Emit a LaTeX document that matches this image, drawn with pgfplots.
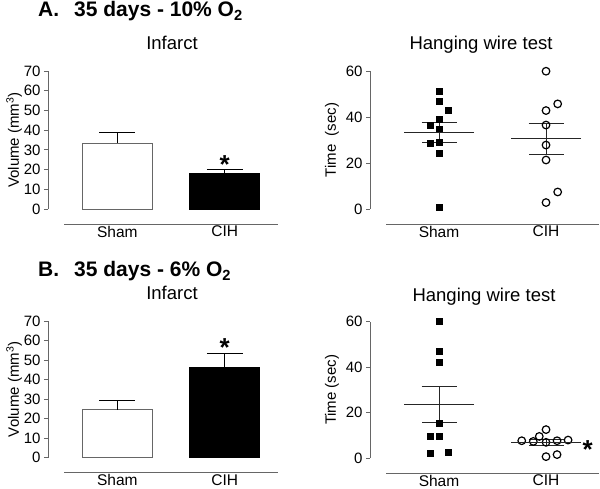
\documentclass[border=0pt]{standalone}
\usepackage{pgfplots}
\pgfplotsset{compat=1.18}
\usepackage{fontspec}
\setmainfont{Liberation Sans}

\definecolor{axisgray}{gray}{0.4}

\pgfplotsset{
  prism/.style={
    scale only axis, enlargelimits=false, clip=false,
    width=230pt,
    axis x line*=bottom, axis y line*=left,
    x axis line style={draw=none},
    y axis line style={axisgray, line width=0.8pt},
    xmin=0.355, xmax=2.495,
    xtick={1,2}, xticklabels={Sham,CIH},
    xtick style={draw=none},
    xticklabel style={font=\fontsize{15.5}{17}\selectfont, yshift=-9.5pt},
    ytick style={axisgray, line width=0.8pt},
    tick align=outside, major tick length=4pt,
    yticklabel style={font=\fontsize{15}{17}\selectfont},
    ylabel style={font=\fontsize{15}{17}\selectfont},
    /pgf/number format/assume math mode=true,
  },
  barpanel/.style={prism, ymin=0, ymax=70, ytick={0,10,...,70},
    ylabel={Volume (mm\textsuperscript{3})}, ylabel shift=-5pt},
  dotpanel/.style={prism, ymin=0, ymax=60, ytick={0,20,40,60},
    ylabel={#1}},
  barerr/.style={
    error bars/y dir=plus, error bars/y explicit,
    error bars/error mark=|,
    error bars/error bar style={black, line width=1pt},
    error bars/error mark options={black, line width=1pt, mark size=18pt}},
  shambar/.style={ybar, bar width=70pt, bar shift=0pt, draw=axisgray, fill=white, line width=0.8pt, barerr},
  cihbar/.style={ybar, bar width=70pt, bar shift=0pt, draw=black, fill=black, line width=0.8pt, barerr},
  meansem/.style={only marks, black!85, mark=-, mark size=35pt, mark options={line width=0.8pt},
    error bars/y dir=both, error bars/y explicit,
    error bars/error mark=|,
    error bars/error bar style={black!85, line width=0.8pt},
    error bars/error mark options={black!85, line width=0.8pt, mark size=17.5pt}},
}

\newcommand{\catline}{\draw[axisgray, line width=0.8pt] ([yshift=-15pt]rel axis cs:0.07,0) -- ([yshift=-15pt]rel axis cs:1,0);}
\newcommand{\sigstar}[1]{\node[font=\fontsize{26}{26}\selectfont\bfseries, anchor=base, inner sep=0pt, yshift=-14.5pt] at (#1) {*};}

\begin{document}
\begin{tikzpicture}
\path[use as bounding box] (0,0) rectangle (600pt,489pt);

% titles
\node[anchor=base west, inner sep=0pt, font=\fontsize{21}{24}\selectfont\bfseries] at (38pt,472pt) {A.\hspace{15pt}35 days - 10\% O\textsubscript{2}};
\node[anchor=base west, inner sep=0pt, font=\fontsize{21}{24}\selectfont\bfseries] at (38pt,212pt) {B.\hspace{15pt}35 days - 6\% O\textsubscript{2}};
\node[anchor=base, inner sep=0pt, font=\fontsize{18.5}{20}\selectfont] at (172pt,439pt) {Infarct};
\node[anchor=base, inner sep=0pt, font=\fontsize{18.5}{20}\selectfont] at (481pt,439pt) {Hanging wire test};
\node[anchor=base, inner sep=0pt, font=\fontsize{18.5}{20}\selectfont] at (172pt,189pt) {Infarct};
\node[anchor=base, inner sep=0pt, font=\fontsize{18.5}{20}\selectfont] at (484pt,187pt) {Hanging wire test};

% A: infarct
\begin{axis}[barpanel, height=138pt, at={(48pt,280pt)}, anchor=south west]
\addplot[shambar] coordinates {(1,33.5) +- (0,5.1)};
\addplot[cihbar] coordinates {(2,17.9) +- (0,2.0)};
\sigstar{axis cs:2,25.4}
\catline
\end{axis}

% A: hanging wire
\begin{axis}[dotpanel={Time\ \ (sec)}, width=229pt, height=138pt, at={(370pt,280pt)}, anchor=south west]
\addplot[only marks, mark=square*, mark size=3pt, black] coordinates {
(1,51.0) (1,46.8) (1.085,42.9) (1,39.1) (0.913,36.4) (1,34.5) (0.913,28.4) (1,29.1) (1,24.3) (1,0.9)};
\addplot[only marks, mark=o, mark size=3.8pt, mark options={line width=1.2pt}, black] coordinates {
(2,59.9) (2.109,45.7) (2,42.8) (2,36.5) (2,27.8) (2,21.3) (2.109,7.4) (2,2.8)};
\addplot[meansem] coordinates {(1,33.3) +- (0,4.5)};
\addplot[meansem] coordinates {(2,30.5) +- (0,6.9)};
\catline
\end{axis}

% B: infarct
\begin{axis}[barpanel, height=136.7pt, at={(48pt,31.3pt)}, anchor=south west]
\addplot[shambar] coordinates {(1,24.6) +- (0,4.8)};
\addplot[cihbar] coordinates {(2,46.1) +- (0,7.3)};
\sigstar{axis cs:2,59.4}
\catline
\end{axis}

% B: hanging wire
\begin{axis}[dotpanel={Time (sec)}, width=229pt, height=136.3pt, at={(370pt,31pt)}, anchor=south west]
\addplot[only marks, mark=square*, mark size=3pt, black] coordinates {
(1,60.0) (1,47.1) (1,42.1) (1,15.1) (0.913,9.8) (1,9.4) (0.913,2.3) (1.087,2.6)};
\addplot[only marks, mark=o, mark size=3.8pt, mark options={line width=1.2pt}, black] coordinates {
(1.773,7.6) (1.881,7.3) (1.937,9.5) (2,12.5) (2,6.9) (2.103,7.6) (2.206,7.9) (2,0.6) (2.103,1.5)};
\addplot[meansem] coordinates {(1,23.6) +- (0,7.9)};
\addplot[meansem] coordinates {(2,6.8) +- (0,1.2)};
\sigstar{axis cs:2.39,6.1}
\catline
\end{axis}
\end{tikzpicture}
\end{document}
